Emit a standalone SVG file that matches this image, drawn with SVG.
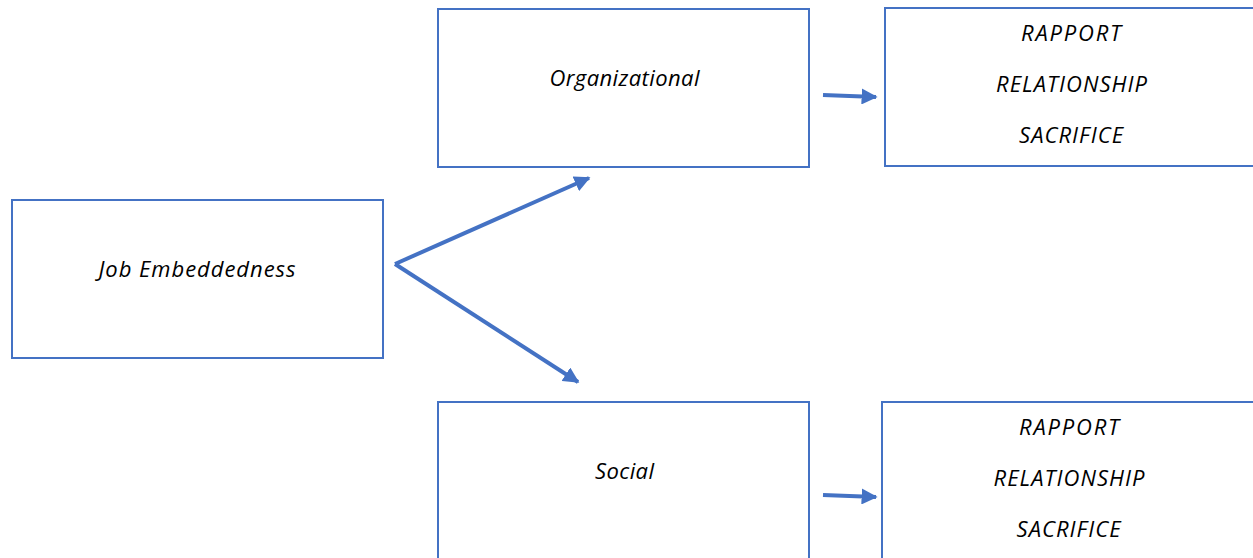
<svg xmlns="http://www.w3.org/2000/svg" width="1253" height="558" viewBox="0 0 1253 558">
<style>
.box{fill:#fff;stroke:#4472C4;stroke-width:2}
.t{font-family:"Open Sans","Noto Sans",sans-serif;font-style:italic;font-size:22px;fill:#000;text-anchor:middle}
.c{stroke:#4472C4;stroke-width:4;fill:none}
</style>
<defs>
<marker id="ah" viewBox="0 0 10 10" refX="9" refY="5" markerWidth="4" markerHeight="4" markerUnits="strokeWidth" orient="auto">
<path d="M0,0 L10,5 L0,10 z" fill="#4472C4"/>
</marker>
</defs>
<rect width="1253" height="558" fill="#fff"/>
<g id="job">
<rect class="box" x="12" y="200" width="371" height="158"/>
<text class="t" x="197" y="277" textLength="197" lengthAdjust="spacing">Job Embeddedness</text>
</g>
<g id="org">
<rect class="box" x="438" y="9" width="371" height="158"/>
<text class="t" x="624.5" y="86" textLength="150" lengthAdjust="spacing">Organizational</text>
</g>
<g id="orgitems">
<rect class="box" x="885" y="8" width="372" height="158"/>
<text class="t" x="1071" y="41" textLength="100" lengthAdjust="spacing">RAPPORT</text>
<text class="t" x="1071.5" y="92" textLength="151" lengthAdjust="spacing">RELATIONSHIP</text>
<text class="t" x="1071" y="143" textLength="104" lengthAdjust="spacing">SACRIFICE</text>
</g>
<g id="social">
<rect class="box" x="438" y="402" width="371" height="160"/>
<text class="t" x="624.5" y="479" textLength="59" lengthAdjust="spacing">Social</text>
</g>
<g id="socitems">
<rect class="box" x="882" y="402" width="375" height="160"/>
<text class="t" x="1069" y="435" textLength="100" lengthAdjust="spacing">RAPPORT</text>
<text class="t" x="1069" y="486" textLength="151" lengthAdjust="spacing">RELATIONSHIP</text>
<text class="t" x="1068.5" y="537" textLength="104" lengthAdjust="spacing">SACRIFICE</text>
</g>
<g id="connectors">
<path class="c" d="M395,264 L589,178" marker-end="url(#ah)"/>
<path class="c" d="M395,264 L578,382" marker-end="url(#ah)"/>
<path class="c" d="M823,95 L876,97" marker-end="url(#ah)"/>
<path class="c" d="M823,495 L876,497" marker-end="url(#ah)"/>
</g>
</svg>
